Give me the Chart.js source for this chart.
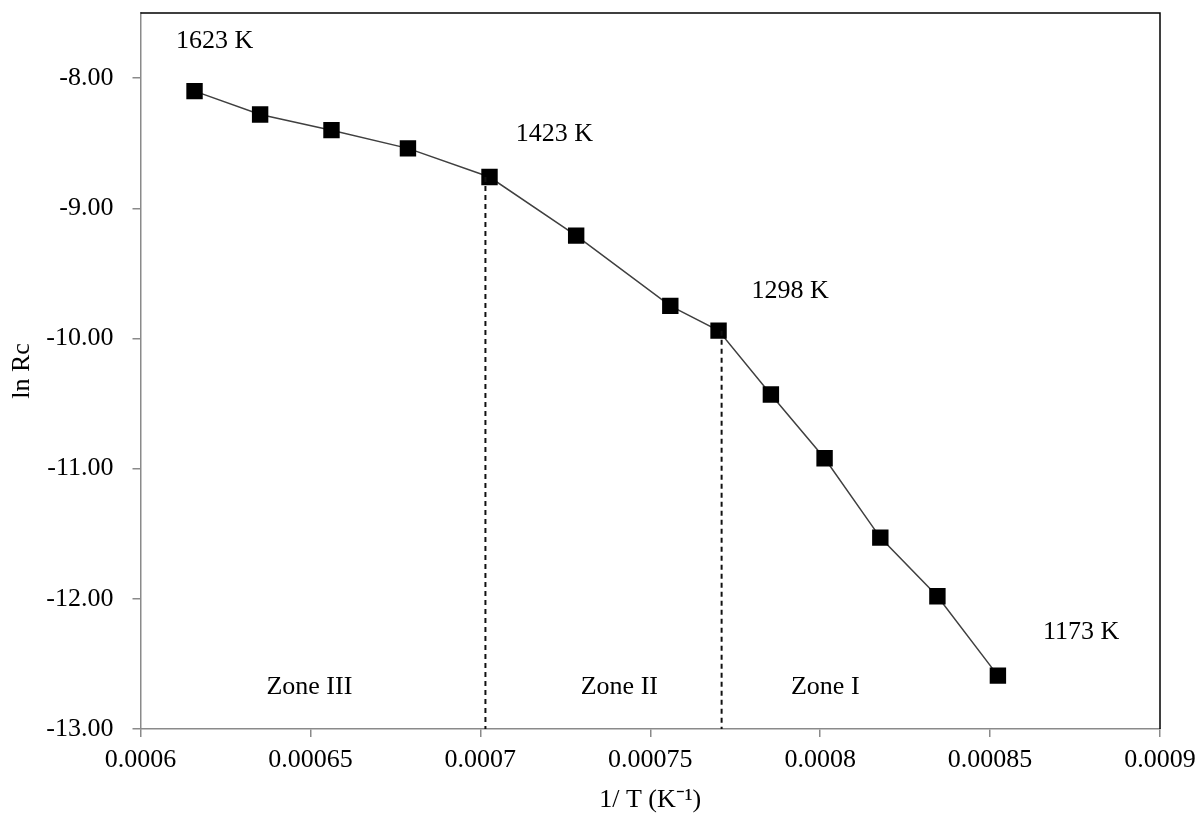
<!DOCTYPE html>
<html><head><meta charset="utf-8">
<script src="https://cdn.jsdelivr.net/npm/chart.js@4/dist/chart.umd.min.js"></script>
<style>html,body{margin:0;padding:0;background:#fff}canvas{display:block}</style>
</head><body>
<canvas id="c" width="1202" height="816"></canvas>
<script>
// Data
const invT = [0.0006159, 0.0006352, 0.0006562, 0.0006787, 0.0007027, 0.0007282, 0.0007559,
              0.0007701, 0.0007855, 0.0008013, 0.0008177, 0.0008345, 0.0008523];
const lnRc = [-8.10, -8.28, -8.40, -8.54, -8.76, -9.21, -9.75,
              -9.94, -10.43, -10.92, -11.53, -11.98, -12.59];
const xTickValues = [0.0006, 0.00065, 0.0007, 0.00075, 0.0008, 0.00085, 0.0009];
const xTickLabels = ['0.0006', '0.00065', '0.0007', '0.00075', '0.0008', '0.00085', '0.0009'];
const yTickValues = [-13, -12, -11, -10, -9, -8];
const yTickLabels = ['-13.00', '-12.00', '-11.00', '-10.00', '-9.00', '-8.00'];
const tempLabels = ['1623 K', '1423 K', '1298 K', '1173 K'];
const tempLabelX = [0.0006218, 0.0007218, 0.0007912, 0.0008768];
const tempLabelY = [-7.72, -8.43, -9.64, -12.26];
const zoneLabels = ['Zone III', 'Zone II', 'Zone I'];
const zoneLabelX = [0.0006497, 0.0007409, 0.0008015];
const zoneLabelY = [-12.68, -12.68, -12.68];
const boundaryX = [0.0007015, 0.000771];
const boundaryTopY = [-8.76, -9.94];

const FONT = 'Liberation Serif, Times New Roman, serif';

const mainData = invT.map((x, i) => ({x: x, y: lnRc[i]}));
const boundarySets = boundaryX.map((bx, i) => ({
  data: [{x: bx, y: boundaryTopY[i]}, {x: bx, y: -13}],
  borderColor: '#111', borderWidth: 2, borderDash: [5, 4],
  pointRadius: 0, showLine: true, fill: false
}));

const textPlugin = {
  id: 'texts',
  beforeDatasetsDraw(chart) {
    const {ctx, chartArea: a} = chart;
    ctx.save();
    ctx.strokeStyle = '#000'; ctx.lineWidth = 1.5;
    ctx.beginPath();
    ctx.moveTo(a.left, a.top); ctx.lineTo(a.right, a.top); ctx.lineTo(a.right, a.bottom);
    ctx.stroke();
    ctx.restore();
  },
  afterDraw(chart) {
    const {ctx} = chart;
    const xs = chart.scales.x, ys = chart.scales.y;
    ctx.save();
    ctx.fillStyle = '#000';
    ctx.font = '26px ' + FONT;
    ctx.textAlign = 'center'; ctx.textBaseline = 'middle';
    tempLabels.forEach((t, i) => ctx.fillText(t, xs.getPixelForValue(tempLabelX[i]), ys.getPixelForValue(tempLabelY[i])));
    zoneLabels.forEach((t, i) => ctx.fillText(t, xs.getPixelForValue(zoneLabelX[i]), ys.getPixelForValue(zoneLabelY[i])));
    ctx.restore();
  }
};

new Chart(document.getElementById('c'), {
  type: 'scatter',
  data: {
    datasets: [
      ...boundarySets,
      {
        data: mainData, showLine: true,
        borderColor: '#404040', borderWidth: 1.5,
        pointStyle: 'rect', pointRadius: 11.6, pointHoverRadius: 11.6,
        pointBackgroundColor: '#000', pointBorderColor: '#000', pointBorderWidth: 0
      }
    ]
  },
  options: {
    responsive: false, animation: false, devicePixelRatio: 1,
    layout: {padding: {left: 0, right: 42, top: 13, bottom: 0}},
    plugins: {legend: {display: false}, tooltip: {enabled: false}},
    scales: {
      x: {
        type: 'linear', min: 0.0006, max: 0.0009,
        afterFit(s) { s.height = 87; s.paddingLeft = 0; s.paddingRight = 0; },
        afterBuildTicks(s) { s.ticks = xTickValues.map(v => ({value: v})); },
        ticks: {
          color: '#000', padding: 8, maxRotation: 0, autoSkip: false,
          font: {family: FONT, size: 26},
          callback(v) { const i = xTickValues.findIndex(t => Math.abs(t - v) < 1e-9); return i >= 0 ? xTickLabels[i] : ''; }
        },
        grid: {drawOnChartArea: false, drawTicks: true, tickLength: 8, color: '#8a8a8a', lineWidth: 1.5},
        border: {display: true, color: '#8a8a8a', width: 1.5},
        title: {display: true, text: '1/ T (K⁻¹)', color: '#000', font: {family: FONT, size: 26}, padding: {top: 0, bottom: 0}}
      },
      y: {
        type: 'linear', min: -13, max: -7.5,
        afterFit(s) { s.width = 140.5; s.paddingTop = 0; s.paddingBottom = 0; },
        afterBuildTicks(s) { s.ticks = yTickValues.map(v => ({value: v})); },
        ticks: {
          color: '#000', padding: 19,
          font: {family: FONT, size: 26},
          callback(v) { const i = yTickValues.findIndex(t => Math.abs(t - v) < 1e-9); return i >= 0 ? yTickLabels[i] : ''; }
        },
        grid: {drawOnChartArea: false, drawTicks: true, tickLength: 8, color: '#8a8a8a', lineWidth: 1.5},
        border: {display: true, color: '#8a8a8a', width: 1.5},
        title: {display: true, text: 'ln Rc', color: '#000', font: {family: FONT, size: 26}, padding: {top: 7, bottom: 0}}
      }
    }
  },
  plugins: [textPlugin]
});
</script>
</body></html>
